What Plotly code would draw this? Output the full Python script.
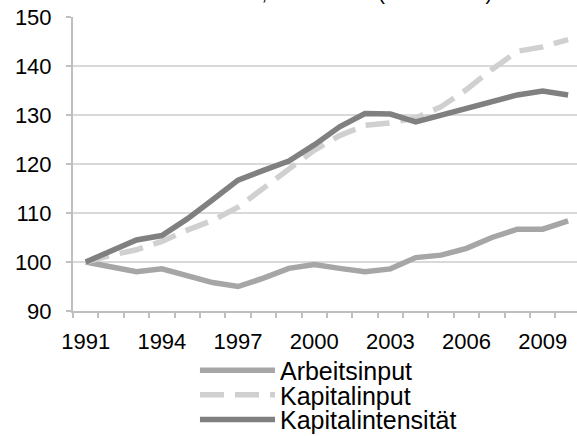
import plotly.graph_objects as go

years = list(range(1991, 2011))
arbeitsinput = [100, 99.0, 98.0, 98.6, 97.3, 95.8, 95.0, 96.7, 98.7, 99.5,
                98.7, 98.0, 98.6, 100.9, 101.4, 102.8, 105.0, 106.7, 106.7, 108.4]
kapitalinput = [100, 101.4, 102.5, 104.2, 106.5, 108.5, 111.2, 115.0, 118.7, 122.8,
                125.8, 127.9, 128.4, 129.4, 131.7, 135.2, 139.3, 143.0, 143.9, 145.4]
kapitalintensitaet = [100, 102.4, 104.5, 105.4, 108.8, 112.7, 116.7, 118.7, 120.6, 123.9,
                      127.6, 130.3, 130.2, 128.6, 130.0, 131.3, 132.9, 134.1, 134.9, 134.1]
x_tick_labels = ["1991", "1994", "1997", "2000", "2003", "2006", "2009"]
y_ticks = [90, 100, 110, 120, 130, 140, 150]

FONT = "Liberation Sans, Arial, sans-serif"
TICK_FS = 22
LEG_FS = 25
AX = "#bfbfbf"

fig = go.Figure()
fig.add_trace(go.Scatter(x=years, y=arbeitsinput, mode="lines", name="Arbeitsinput",
                         line=dict(color="#a6a6a6", width=5.5), legend="legend"))
fig.add_trace(go.Scatter(x=years, y=kapitalinput, mode="lines", name="Kapitalinput",
                         line=dict(color="#d0d0d0", width=5.5, dash="24px,11px"), legend="legend2"))
fig.add_trace(go.Scatter(x=years, y=kapitalintensitaet, mode="lines", name="Kapitalintensität",
                         line=dict(color="#808080", width=5.5), legend="legend3"))

def leg(yc):
    return dict(x=0.242, xanchor="left", xref="paper", y=yc, yanchor="middle", yref="container",
                orientation="v",
                font=dict(family=FONT, size=LEG_FS, color="#000000"),
                bgcolor="rgba(0,0,0,0)", itemwidth=75)

fig.update_layout(
    width=577, height=436,
    margin=dict(l=73, r=0, t=17, b=125),
    paper_bgcolor="white", plot_bgcolor="white",
    font=dict(family=FONT, size=TICK_FS, color="#000000"),
    title=dict(text="Deutsche Wirtschaft, 1991–2010 (1991 = 100)", x=0.853, xref="container",
               y=1, yref="container", yanchor="bottom", xanchor="right",
               font=dict(family=FONT, size=20, color="#000000")),
    showlegend=True,
    legend=leg(0.150),
    legend2=leg(0.094),
    legend3=leg(0.037),
    xaxis=dict(range=[1990.5, 2010.35], tickmode="array",
               tickvals=[int(t) for t in x_tick_labels], ticktext=x_tick_labels,
               ticks="", showgrid=False, zeroline=False, automargin=False,
               showline=True, linecolor=AX, linewidth=2,
               ticklabelstandoff=10,
               tickfont=dict(family=FONT, size=TICK_FS, color="#000000"),
               minor=dict(ticks="outside", ticklen=5, tickcolor=AX, tickwidth=2,
                          tick0=1990.5, dtick=1, showgrid=False)),
    yaxis=dict(range=[90, 150], tickmode="array", tickvals=y_ticks,
               ticks="outside", ticklen=5, tickcolor=AX, tickwidth=2, automargin=False,
               showgrid=True, gridcolor="#d9d9d9", gridwidth=1.5, zeroline=False,
               showline=True, linecolor=AX, linewidth=2, ticklabelstandoff=10,
               tickfont=dict(family=FONT, size=TICK_FS, color="#000000")),
)

fig.write_html("out.html", config={"displayModeBar": False},
               post_script="document.body.style.margin='0';document.body.style.overflow='hidden';")
